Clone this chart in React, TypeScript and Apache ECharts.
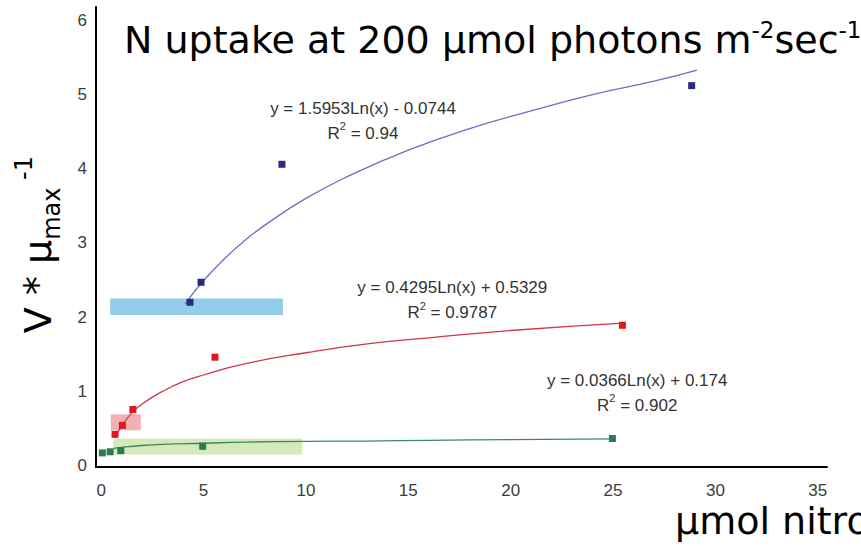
import React, { useEffect, useRef } from "react";
import * as echarts from "echarts";

// Tick labels
const xTicks = [0, 5, 10, 15, 20, 25, 30, 35];
const yTicks = [0, 1, 2, 3, 4, 5, 6];

// Measured points
const blueX = [4.34, 4.88, 8.83, 28.84];
const blueY = [2.2, 2.47, 4.06, 5.12];
const redX = [0.68, 1.04, 1.55, 5.56, 25.46];
const redY = [0.42, 0.54, 0.755, 1.46, 1.89];
const greenX = [0.06, 0.44, 0.96, 4.96, 24.97];
const greenY = [0.17, 0.185, 0.2, 0.26, 0.364];

// Trend curves
const blueFitX = [4.1, 5, 6, 7, 8, 10, 12, 15, 18, 21, 24, 27, 29.1];
const blueFitY = [2.18, 2.49, 2.78, 3.03, 3.24, 3.6, 3.89, 4.25, 4.54, 4.78, 5.0, 5.18, 5.33];
const redFitX = [0.68, 1, 1.5, 2, 3, 4, 5, 7, 10, 13, 16, 20, 25.5];
const redFitY = [0.37, 0.53, 0.71, 0.83, 1.0, 1.13, 1.22, 1.37, 1.52, 1.64, 1.72, 1.82, 1.92];
const greenFitX = [0.6, 1, 2, 3, 5, 7, 10, 13, 16, 20, 25];
const greenFitY = [0.23, 0.245, 0.27, 0.285, 0.3, 0.315, 0.325, 0.33, 0.34, 0.35, 0.36];

// Shaded bands: [xFrom, xTo, yFrom, yTo]
const blueBand = [0.44, 8.88, 2.03, 2.25];
const redBand = [0.47, 1.94, 0.475, 0.69];
const greenBand = [0.6, 9.82, 0.15, 0.36];

// Equations
const blueEq = ["y = 1.5953Ln(x) - 0.0744", "0.94"];
const redEq = ["y = 0.4295Ln(x) + 0.5329", "0.9787"];
const greenEq = ["y = 0.0366Ln(x) + 0.174", "0.902"];
const blueEqAt = [12.79, 4.65];
const redEqAt = [17.15, 2.23];
const greenEqAt = [26.18, 0.98];

const zip = (xs: number[], ys: number[]) => xs.map((x, i) => [x, ys[i]]);

const SANS = "Liberation Sans, Arial, sans-serif";
const BIG = "DejaVu Sans, Verdana, sans-serif";

function eqPoint(at: number[], eq: string[]) {
  return {
    coord: at,
    symbol: "circle",
    symbolSize: 1,
    itemStyle: { color: "rgba(0,0,0,0)" },
    label: {
      show: true,
      position: "inside",
      align: "center",
      verticalAlign: "middle",
      formatter: `{t|${eq[0]}}\n{t|R}{s|2}{t| = ${eq[1]}}`,
      rich: {
        t: { fontSize: 17, fontFamily: SANS, color: "#333", lineHeight: 25 },
        s: { fontSize: 11, fontFamily: SANS, color: "#333", lineHeight: 19, verticalAlign: "top" },
      },
    },
  };
}

function band(b: number[], color: string) {
  return [
    { xAxis: b[0], yAxis: b[2], itemStyle: { color } },
    { xAxis: b[1], yAxis: b[3] },
  ];
}

export default function App() {
  const ref = useRef<HTMLDivElement>(null);
  useEffect(() => {
    if (!ref.current) return;
    const chart = echarts.init(ref.current, undefined, { renderer: "svg" });
    const axisLabelBase = { color: "#3c3c3c", fontSize: 17, fontFamily: SANS };
    chart.setOption({
      animation: false,
      backgroundColor: "#fff",
      grid: { left: 96, right: 34, top: 7, bottom: 79 },
      xAxis: {
        type: "value",
        min: -0.25,
        max: 35.45,
        axisLine: { show: true, onZero: false, lineStyle: { color: "#000", width: 2 } },
        axisTick: { show: false },
        splitLine: { show: false },
        axisLabel: { ...axisLabelBase, customValues: xTicks, margin: 15 },
      },
      yAxis: {
        type: "value",
        min: -0.02,
        max: 6.18,
        axisLine: { show: true, onZero: false, lineStyle: { color: "#000", width: 2 } },
        axisTick: { show: false },
        splitLine: { show: false },
        axisLabel: { ...axisLabelBase, customValues: yTicks, margin: 9 },
      },
      graphic: [
        {
          type: "text",
          x: 124,
          y: 18,
          style: {
            text: "{a|N uptake at 200 µmol photons m}{s|-2}{a|sec}{s|-1}",
            align: "left",
            verticalAlign: "top",
            fill: "#000",
            rich: {
              a: { fontSize: 38, fontFamily: BIG, lineHeight: 44, fill: "#000" },
              s: { fontSize: 23, fontFamily: BIG, lineHeight: 26, verticalAlign: "top", fill: "#000" },
            },
          },
        },
        {
          type: "text",
          x: 675,
          y: 521,
          style: {
            text: "µmol nitrogen",
            font: `38px ${BIG}`,
            lineHeight: 32,
            align: "left",
            verticalAlign: "middle",
            fill: "#000",
          },
        },
        {
          type: "text",
          x: 37.6,
          y: 244.6,
          rotation: Math.PI / 2,
          style: {
            text: "{a|V * µ}{b|max}{c| -1}",
            align: "center",
            verticalAlign: "middle",
            fill: "#000",
            rich: {
              a: { fontSize: 38, fontFamily: BIG, lineHeight: 52, fill: "#000" },
              b: { fontSize: 24, fontFamily: BIG, lineHeight: 30, verticalAlign: "bottom", fill: "#000" },
              c: { fontSize: 24, fontFamily: BIG, lineHeight: 20, verticalAlign: "top", fill: "#000" },
            },
          },
        },
      ],
      series: [
        {
          name: "bands",
          type: "line",
          data: [],
          z: 1,
          markArea: {
            silent: true,
            data: [
              band(blueBand, "#93cdea"),
              band(redBand, "#f3b0b0"),
              band(greenBand, "#d5e9bb"),
            ],
          },
          markPoint: {
            silent: true,
            data: [eqPoint(blueEqAt, blueEq), eqPoint(redEqAt, redEq), eqPoint(greenEqAt, greenEq)],
          },
        },
        {
          name: "blue fit",
          type: "line",
          smooth: true,
          showSymbol: false,
          z: 2,
          data: zip(blueFitX, blueFitY),
          lineStyle: { color: "#6d6dc6", width: 1.3 },
        },
        {
          name: "red fit",
          type: "line",
          smooth: true,
          showSymbol: false,
          z: 2,
          data: zip(redFitX, redFitY),
          lineStyle: { color: "#d13548", width: 1.3 },
        },
        {
          name: "green fit",
          type: "line",
          smooth: true,
          showSymbol: false,
          z: 2,
          data: zip(greenFitX, greenFitY),
          lineStyle: { color: "#3b8a5e", width: 1.3 },
        },
        {
          name: "blue",
          type: "scatter",
          symbol: "rect",
          symbolSize: 7,
          z: 3,
          data: zip(blueX, blueY),
          itemStyle: { color: "#2c2a7e", opacity: 1 },
        },
        {
          name: "red",
          type: "scatter",
          symbol: "rect",
          symbolSize: 7,
          z: 3,
          data: zip(redX, redY),
          itemStyle: { color: "#e3161e", opacity: 1 },
        },
        {
          name: "green",
          type: "scatter",
          symbol: "rect",
          symbolSize: 7,
          z: 3,
          data: zip(greenX, greenY),
          itemStyle: { color: "#2a7a52", opacity: 1 },
        },
      ],
    });
    return () => chart.dispose();
  }, []);
  return (
    <div
      ref={ref}
      style={{ position: "absolute", left: 0, top: 0, width: 861, height: 546 }}
    />
  );
}
